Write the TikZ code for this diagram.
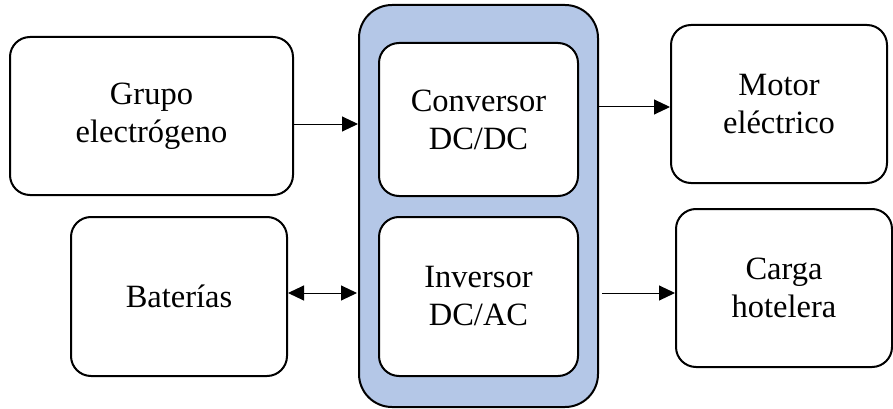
\documentclass[tikz,border=0pt]{standalone}
\usepackage{fontspec}
\setmainfont{Liberation Serif}
\usetikzlibrary{arrows.meta}
\definecolor{panelblue}{RGB}{180,199,231}
\tikzset{
  blockbox/.style={draw=black, line width=2pt, rounded corners=20pt, fill=white,
    align=center, inner sep=0pt, font=\fontsize{32.5}{38}\selectfont},
  panel/.style={draw=black, line width=2pt, rounded corners=33pt, fill=panelblue, inner sep=0pt},
  link/.style={line width=1pt, -{Triangle[length=16pt,width=15pt]}},
  dlink/.style={line width=1pt, {Triangle[length=16pt,width=15pt]}-{Triangle[length=16pt,width=15pt]}}
}
\begin{document}
\begin{tikzpicture}[x=1pt,y=-1pt]
\useasboundingbox (0,0) rectangle (893,409);
% central converter panel
\node[panel, minimum width=239pt, minimum height=402pt] (outer) at (478.5,206) {};
\node[blockbox, minimum width=199pt, minimum height=153pt] (conv) at (478.5,119.5) {Conversor\\DC/DC};
\node[blockbox, minimum width=199pt, minimum height=159pt] (inv) at (478.5,296.5) {Inversor\\DC/AC};
% sources
\node[blockbox, minimum width=283pt, minimum height=158pt] (grupo) at (151.5,116) {Grupo\\electrógeno};
\node[blockbox, minimum width=216pt, minimum height=159pt] (bat) at (179,296.5) {Baterías};
% loads
\node[blockbox, minimum width=216pt, minimum height=158pt] (motor) at (779,104) {Motor\\eléctrico};
\node[blockbox, minimum width=216pt, minimum height=158pt] (carga) at (784,288) {Carga\\hotelera};
% connector heights
\coordinate (ya) at (0,124);
\coordinate (yb) at (0,293);
\coordinate (yc) at (0,107);
\coordinate (yd) at (0,293);
\draw[link] (grupo.east |- ya) -- (outer.west |- ya);
\draw[dlink] (bat.east |- yb) -- ([xshift=-1pt]outer.west |- yb);
\draw[link] (outer.east |- yc) -- (motor.west |- yc);
\draw[link] ([xshift=3pt]outer.east |- yd) -- (carga.west |- yd);
\end{tikzpicture}
\end{document}
